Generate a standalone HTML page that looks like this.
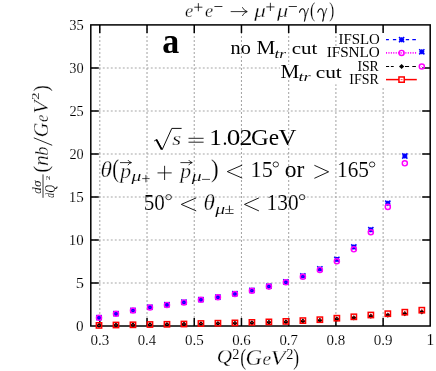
<!DOCTYPE html>
<html><head><meta charset="utf-8"><title>plot</title>
<style>
html,body{margin:0;padding:0;background:#fff;}
body{width:436px;height:371px;overflow:hidden;font-family:"Liberation Serif",serif;}
svg{display:block;will-change:transform;}
text{font-family:"Liberation Serif",serif;fill:#000;}
</style></head><body>
<svg width="436" height="371" viewBox="0 0 436 371">
<rect x="0" y="0" width="436" height="371" fill="#fff"/>

<g stroke="#a6a6a6" stroke-width="1.05" stroke-dasharray="1.9 2.1" fill="none">
<path d="M99.80 326.00V24.90"/>
<path d="M147.02 326.00V24.90"/>
<path d="M194.24 326.00V24.90"/>
<path d="M241.46 326.00V24.90"/>
<path d="M288.68 326.00V24.90"/>
<path d="M335.90 326.00V24.90"/>
<path d="M383.12 326.00V24.90"/>
<path d="M90.80 282.99H430.20"/>
<path d="M90.80 239.97H430.20"/>
<path d="M90.80 196.96H430.20"/>
<path d="M90.80 153.94H430.20"/>
<path d="M90.80 110.93H430.20"/>
<path d="M90.80 67.91H430.20"/>
</g>
<rect x="280" y="65" width="150" height="15" fill="#fff"/>
<rect x="381" y="32" width="49" height="56" fill="#fff"/>
<rect x="334.5" y="47.7" width="3.6" height="36.6" fill="#fff"/>
<g stroke="#000" stroke-width="1.5" fill="none">
<path d="M99.80 326.00v-8M99.80 24.90v8"/>
<path d="M147.02 326.00v-8M147.02 24.90v8"/>
<path d="M194.24 326.00v-8M194.24 24.90v8"/>
<path d="M241.46 326.00v-8M241.46 24.90v8"/>
<path d="M288.68 326.00v-8M288.68 24.90v8"/>
<path d="M335.90 326.00v-8M335.90 24.90v8"/>
<path d="M383.12 326.00v-8M383.12 24.90v8"/>
<path d="M90.80 282.99h8M430.20 282.99h-8"/>
<path d="M90.80 239.97h8M430.20 239.97h-8"/>
<path d="M90.80 196.96h8M430.20 196.96h-8"/>
<path d="M90.80 153.94h8M430.20 153.94h-8"/>
<path d="M90.80 110.93h8M430.20 110.93h-8"/>
<path d="M90.80 67.91h8M430.20 67.91h-8"/>
</g>
<rect x="90.80" y="24.90" width="339.40" height="301.10" fill="none" stroke="#000" stroke-width="1.5" stroke-linejoin="miter"/>
<g id="ticklabels">
<text transform="translate(76.09 330.97) scale(1.0154 1.0173)" font-size="15.00" stroke="#fff" stroke-width="0.12">0</text>
<text transform="translate(75.64 287.96) scale(1.1000 1.0300)" font-size="15.00" stroke="#fff" stroke-width="0.11">5</text>
<text transform="translate(68.75 244.94) scale(0.9962 1.0173)" font-size="15.00" stroke="#fff" stroke-width="0.12">10</text>
<text transform="translate(68.74 201.93) scale(1.0057 1.0300)" font-size="15.00" stroke="#fff" stroke-width="0.12">15</text>
<text transform="translate(69.41 158.92) scale(0.9514 1.0173)" font-size="15.00" stroke="#fff" stroke-width="0.12">20</text>
<text transform="translate(69.40 115.90) scale(0.9600 1.0300)" font-size="15.00" stroke="#fff" stroke-width="0.12">25</text>
<text transform="translate(69.28 72.89) scale(0.9600 1.0173)" font-size="15.00" stroke="#fff" stroke-width="0.12">30</text>
<text transform="translate(69.27 29.87) scale(0.9688 1.0173)" font-size="15.00" stroke="#fff" stroke-width="0.12">35</text>
<text transform="translate(90.50 344.67) scale(1.0043 1.0370)" font-size="15.00" stroke="#fff" stroke-width="0.12">0.3</text>
<text transform="translate(137.73 344.67) scale(0.9833 1.0370)" font-size="15.00" stroke="#fff" stroke-width="0.12">0.4</text>
<text transform="translate(184.94 344.67) scale(1.0043 1.0370)" font-size="15.00" stroke="#fff" stroke-width="0.12">0.5</text>
<text transform="translate(232.16 344.67) scale(0.9902 1.0370)" font-size="15.00" stroke="#fff" stroke-width="0.12">0.6</text>
<text transform="translate(279.38 344.67) scale(0.9902 1.0370)" font-size="15.00" stroke="#fff" stroke-width="0.12">0.7</text>
<text transform="translate(326.60 344.67) scale(0.9972 1.0370)" font-size="15.00" stroke="#fff" stroke-width="0.12">0.8</text>
<text transform="translate(373.82 344.67) scale(1.0043 1.0370)" font-size="15.00" stroke="#fff" stroke-width="0.12">0.9</text>
<text transform="translate(426.46 344.70) scale(1.0233 1.0532)" font-size="15.00" stroke="#fff" stroke-width="0.12">1</text>
</g>
<g id="data">
<path d="M96.50 317.72h5.00M99.00 315.22v5.00M96.40 315.12l5.20 5.20M96.40 320.32l5.20 -5.20" stroke="#0000ff" stroke-width="1.5" fill="none"/>
<path d="M113.49 313.68h5.00M115.99 311.18v5.00M113.39 311.08l5.20 5.20M113.39 316.28l5.20 -5.20" stroke="#0000ff" stroke-width="1.5" fill="none"/>
<path d="M130.48 310.35h5.00M132.98 307.85v5.00M130.38 307.75l5.20 5.20M130.38 312.95l5.20 -5.20" stroke="#0000ff" stroke-width="1.5" fill="none"/>
<path d="M147.47 307.21h5.00M149.97 304.71v5.00M147.37 304.61l5.20 5.20M147.37 309.81l5.20 -5.20" stroke="#0000ff" stroke-width="1.5" fill="none"/>
<path d="M164.46 304.69h5.00M166.96 302.19v5.00M164.36 302.09l5.20 5.20M164.36 307.29l5.20 -5.20" stroke="#0000ff" stroke-width="1.5" fill="none"/>
<path d="M181.45 302.16h5.00M183.95 299.66v5.00M181.35 299.56l5.20 5.20M181.35 304.76l5.20 -5.20" stroke="#0000ff" stroke-width="1.5" fill="none"/>
<path d="M198.44 299.54h5.00M200.94 297.04v5.00M198.34 296.94l5.20 5.20M198.34 302.14l5.20 -5.20" stroke="#0000ff" stroke-width="1.5" fill="none"/>
<path d="M215.43 297.01h5.00M217.93 294.51v5.00M215.33 294.41l5.20 5.20M215.33 299.61l5.20 -5.20" stroke="#0000ff" stroke-width="1.5" fill="none"/>
<path d="M232.42 293.68h5.00M234.92 291.18v5.00M232.32 291.08l5.20 5.20M232.32 296.28l5.20 -5.20" stroke="#0000ff" stroke-width="1.5" fill="none"/>
<path d="M249.41 290.35h5.00M251.91 287.85v5.00M249.31 287.75l5.20 5.20M249.31 292.95l5.20 -5.20" stroke="#0000ff" stroke-width="1.5" fill="none"/>
<path d="M266.40 286.21h5.00M268.90 283.71v5.00M266.30 283.61l5.20 5.20M266.30 288.81l5.20 -5.20" stroke="#0000ff" stroke-width="1.5" fill="none"/>
<path d="M283.39 281.86h5.00M285.89 279.36v5.00M283.29 279.26l5.20 5.20M283.29 284.46l5.20 -5.20" stroke="#0000ff" stroke-width="1.5" fill="none"/>
<path d="M300.38 276.00h5.00M302.88 273.50v5.00M300.28 273.40l5.20 5.20M300.28 278.60l5.20 -5.20" stroke="#0000ff" stroke-width="1.5" fill="none"/>
<path d="M317.37 268.90h5.00M319.87 266.40v5.00M317.27 266.30l5.20 5.20M317.27 271.50l5.20 -5.20" stroke="#0000ff" stroke-width="1.5" fill="none"/>
<path d="M334.36 259.40h5.00M336.86 256.90v5.00M334.26 256.80l5.20 5.20M334.26 262.00l5.20 -5.20" stroke="#0000ff" stroke-width="1.5" fill="none"/>
<path d="M351.35 247.00h5.00M353.85 244.50v5.00M351.25 244.40l5.20 5.20M351.25 249.60l5.20 -5.20" stroke="#0000ff" stroke-width="1.5" fill="none"/>
<path d="M368.34 229.70h5.00M370.84 227.20v5.00M368.24 227.10l5.20 5.20M368.24 232.30l5.20 -5.20" stroke="#0000ff" stroke-width="1.5" fill="none"/>
<path d="M385.33 203.20h5.00M387.83 200.70v5.00M385.23 200.60l5.20 5.20M385.23 205.80l5.20 -5.20" stroke="#0000ff" stroke-width="1.5" fill="none"/>
<path d="M402.32 156.00h5.00M404.82 153.50v5.00M402.22 153.40l5.20 5.20M402.22 158.60l5.20 -5.20" stroke="#0000ff" stroke-width="1.5" fill="none"/>
<path d="M419.31 51.80h5.00M421.81 49.30v5.00M419.21 49.20l5.20 5.20M419.21 54.40l5.20 -5.20" stroke="#0000ff" stroke-width="1.5" fill="none"/>
<circle cx="99.00" cy="317.80" r="2.55" stroke="#ff00ff" stroke-width="1.45" fill="none"/><circle cx="99.00" cy="317.80" r="0.42" fill="#ff00ff"/>
<circle cx="115.99" cy="313.80" r="2.55" stroke="#ff00ff" stroke-width="1.45" fill="none"/><circle cx="115.99" cy="313.80" r="0.42" fill="#ff00ff"/>
<circle cx="132.98" cy="310.50" r="2.55" stroke="#ff00ff" stroke-width="1.45" fill="none"/><circle cx="132.98" cy="310.50" r="0.42" fill="#ff00ff"/>
<circle cx="149.97" cy="307.40" r="2.55" stroke="#ff00ff" stroke-width="1.45" fill="none"/><circle cx="149.97" cy="307.40" r="0.42" fill="#ff00ff"/>
<circle cx="166.96" cy="304.90" r="2.55" stroke="#ff00ff" stroke-width="1.45" fill="none"/><circle cx="166.96" cy="304.90" r="0.42" fill="#ff00ff"/>
<circle cx="183.95" cy="302.40" r="2.55" stroke="#ff00ff" stroke-width="1.45" fill="none"/><circle cx="183.95" cy="302.40" r="0.42" fill="#ff00ff"/>
<circle cx="200.94" cy="299.80" r="2.55" stroke="#ff00ff" stroke-width="1.45" fill="none"/><circle cx="200.94" cy="299.80" r="0.42" fill="#ff00ff"/>
<circle cx="217.93" cy="297.30" r="2.55" stroke="#ff00ff" stroke-width="1.45" fill="none"/><circle cx="217.93" cy="297.30" r="0.42" fill="#ff00ff"/>
<circle cx="234.92" cy="294.00" r="2.55" stroke="#ff00ff" stroke-width="1.45" fill="none"/><circle cx="234.92" cy="294.00" r="0.42" fill="#ff00ff"/>
<circle cx="251.91" cy="290.70" r="2.55" stroke="#ff00ff" stroke-width="1.45" fill="none"/><circle cx="251.91" cy="290.70" r="0.42" fill="#ff00ff"/>
<circle cx="268.90" cy="286.60" r="2.55" stroke="#ff00ff" stroke-width="1.45" fill="none"/><circle cx="268.90" cy="286.60" r="0.42" fill="#ff00ff"/>
<circle cx="285.89" cy="282.30" r="2.55" stroke="#ff00ff" stroke-width="1.45" fill="none"/><circle cx="285.89" cy="282.30" r="0.42" fill="#ff00ff"/>
<circle cx="302.88" cy="276.80" r="2.55" stroke="#ff00ff" stroke-width="1.45" fill="none"/><circle cx="302.88" cy="276.80" r="0.42" fill="#ff00ff"/>
<circle cx="319.87" cy="269.90" r="2.55" stroke="#ff00ff" stroke-width="1.45" fill="none"/><circle cx="319.87" cy="269.90" r="0.42" fill="#ff00ff"/>
<circle cx="336.86" cy="261.20" r="2.55" stroke="#ff00ff" stroke-width="1.45" fill="none"/><circle cx="336.86" cy="261.20" r="0.42" fill="#ff00ff"/>
<circle cx="353.85" cy="249.30" r="2.55" stroke="#ff00ff" stroke-width="1.45" fill="none"/><circle cx="353.85" cy="249.30" r="0.42" fill="#ff00ff"/>
<circle cx="370.84" cy="232.20" r="2.55" stroke="#ff00ff" stroke-width="1.45" fill="none"/><circle cx="370.84" cy="232.20" r="0.42" fill="#ff00ff"/>
<circle cx="387.83" cy="206.90" r="2.55" stroke="#ff00ff" stroke-width="1.45" fill="none"/><circle cx="387.83" cy="206.90" r="0.42" fill="#ff00ff"/>
<circle cx="404.82" cy="163.30" r="2.55" stroke="#ff00ff" stroke-width="1.45" fill="none"/><circle cx="404.82" cy="163.30" r="0.42" fill="#ff00ff"/>
<circle cx="421.81" cy="66.50" r="2.55" stroke="#ff00ff" stroke-width="1.45" fill="none"/><circle cx="421.81" cy="66.50" r="0.42" fill="#ff00ff"/>
<path d="M99.00 322.87l2.60 2.60l-2.60 2.60l-2.60 -2.60z" fill="#000"/>
<path d="M115.99 322.51l2.60 2.60l-2.60 2.60l-2.60 -2.60z" fill="#000"/>
<path d="M132.98 322.33l2.60 2.60l-2.60 2.60l-2.60 -2.60z" fill="#000"/>
<path d="M149.97 322.06l2.60 2.60l-2.60 2.60l-2.60 -2.60z" fill="#000"/>
<path d="M166.96 321.89l2.60 2.60l-2.60 2.60l-2.60 -2.60z" fill="#000"/>
<path d="M183.95 321.62l2.60 2.60l-2.60 2.60l-2.60 -2.60z" fill="#000"/>
<path d="M200.94 321.17l2.60 2.60l-2.60 2.60l-2.60 -2.60z" fill="#000"/>
<path d="M217.93 320.91l2.60 2.60l-2.60 2.60l-2.60 -2.60z" fill="#000"/>
<path d="M234.92 320.64l2.60 2.60l-2.60 2.60l-2.60 -2.60z" fill="#000"/>
<path d="M251.91 320.20l2.60 2.60l-2.60 2.60l-2.60 -2.60z" fill="#000"/>
<path d="M268.90 319.75l2.60 2.60l-2.60 2.60l-2.60 -2.60z" fill="#000"/>
<path d="M285.89 319.31l2.60 2.60l-2.60 2.60l-2.60 -2.60z" fill="#000"/>
<path d="M302.88 318.59l2.60 2.60l-2.60 2.60l-2.60 -2.60z" fill="#000"/>
<path d="M319.87 317.79l2.60 2.60l-2.60 2.60l-2.60 -2.60z" fill="#000"/>
<path d="M336.86 316.46l2.60 2.60l-2.60 2.60l-2.60 -2.60z" fill="#000"/>
<path d="M353.85 315.21l2.60 2.60l-2.60 2.60l-2.60 -2.60z" fill="#000"/>
<path d="M370.84 313.61l2.60 2.60l-2.60 2.60l-2.60 -2.60z" fill="#000"/>
<path d="M387.83 312.45l2.60 2.60l-2.60 2.60l-2.60 -2.60z" fill="#000"/>
<path d="M404.82 311.12l2.60 2.60l-2.60 2.60l-2.60 -2.60z" fill="#000"/>
<path d="M421.81 309.34l2.60 2.60l-2.60 2.60l-2.60 -2.60z" fill="#000"/>
<rect x="96.35" y="322.75" width="5.30" height="5.30" stroke="#ff0000" stroke-width="1.5" fill="none"/><path d="M98.00 325.40h2" stroke="#ff0000" stroke-width="0.7"/>
<rect x="113.34" y="322.35" width="5.30" height="5.30" stroke="#ff0000" stroke-width="1.5" fill="none"/><path d="M114.99 325.00h2" stroke="#ff0000" stroke-width="0.7"/>
<rect x="130.33" y="322.15" width="5.30" height="5.30" stroke="#ff0000" stroke-width="1.5" fill="none"/><path d="M131.98 324.80h2" stroke="#ff0000" stroke-width="0.7"/>
<rect x="147.32" y="321.85" width="5.30" height="5.30" stroke="#ff0000" stroke-width="1.5" fill="none"/><path d="M148.97 324.50h2" stroke="#ff0000" stroke-width="0.7"/>
<rect x="164.31" y="321.65" width="5.30" height="5.30" stroke="#ff0000" stroke-width="1.5" fill="none"/><path d="M165.96 324.30h2" stroke="#ff0000" stroke-width="0.7"/>
<rect x="181.30" y="321.35" width="5.30" height="5.30" stroke="#ff0000" stroke-width="1.5" fill="none"/><path d="M182.95 324.00h2" stroke="#ff0000" stroke-width="0.7"/>
<rect x="198.29" y="320.85" width="5.30" height="5.30" stroke="#ff0000" stroke-width="1.5" fill="none"/><path d="M199.94 323.50h2" stroke="#ff0000" stroke-width="0.7"/>
<rect x="215.28" y="320.55" width="5.30" height="5.30" stroke="#ff0000" stroke-width="1.5" fill="none"/><path d="M216.93 323.20h2" stroke="#ff0000" stroke-width="0.7"/>
<rect x="232.27" y="320.25" width="5.30" height="5.30" stroke="#ff0000" stroke-width="1.5" fill="none"/><path d="M233.92 322.90h2" stroke="#ff0000" stroke-width="0.7"/>
<rect x="249.26" y="319.75" width="5.30" height="5.30" stroke="#ff0000" stroke-width="1.5" fill="none"/><path d="M250.91 322.40h2" stroke="#ff0000" stroke-width="0.7"/>
<rect x="266.25" y="319.25" width="5.30" height="5.30" stroke="#ff0000" stroke-width="1.5" fill="none"/><path d="M267.90 321.90h2" stroke="#ff0000" stroke-width="0.7"/>
<rect x="283.24" y="318.75" width="5.30" height="5.30" stroke="#ff0000" stroke-width="1.5" fill="none"/><path d="M284.89 321.40h2" stroke="#ff0000" stroke-width="0.7"/>
<rect x="300.23" y="317.95" width="5.30" height="5.30" stroke="#ff0000" stroke-width="1.5" fill="none"/><path d="M301.88 320.60h2" stroke="#ff0000" stroke-width="0.7"/>
<rect x="317.22" y="317.05" width="5.30" height="5.30" stroke="#ff0000" stroke-width="1.5" fill="none"/><path d="M318.87 319.70h2" stroke="#ff0000" stroke-width="0.7"/>
<rect x="334.21" y="315.55" width="5.30" height="5.30" stroke="#ff0000" stroke-width="1.5" fill="none"/><path d="M335.86 318.20h2" stroke="#ff0000" stroke-width="0.7"/>
<rect x="351.20" y="314.15" width="5.30" height="5.30" stroke="#ff0000" stroke-width="1.5" fill="none"/><path d="M352.85 316.80h2" stroke="#ff0000" stroke-width="0.7"/>
<rect x="368.19" y="312.35" width="5.30" height="5.30" stroke="#ff0000" stroke-width="1.5" fill="none"/><path d="M369.84 315.00h2" stroke="#ff0000" stroke-width="0.7"/>
<rect x="385.18" y="311.05" width="5.30" height="5.30" stroke="#ff0000" stroke-width="1.5" fill="none"/><path d="M386.83 313.70h2" stroke="#ff0000" stroke-width="0.7"/>
<rect x="402.17" y="309.55" width="5.30" height="5.30" stroke="#ff0000" stroke-width="1.5" fill="none"/><path d="M403.82 312.20h2" stroke="#ff0000" stroke-width="0.7"/>
<rect x="419.16" y="307.55" width="5.30" height="5.30" stroke="#ff0000" stroke-width="1.5" fill="none"/><path d="M420.81 310.20h2" stroke="#ff0000" stroke-width="0.7"/>
</g>
<g id="legend">
<path d="M386 39.70h2.9M392.9 39.70h3.3M405.8 39.70h3.3M412.3 39.70h3.6" stroke="#0000ff" stroke-width="1.2" fill="none"/>
<path d="M399.10 39.70h5.00M401.60 37.20v5.00M399.00 37.10l5.20 5.20M399.00 42.30l5.20 -5.20" stroke="#0000ff" stroke-width="1.5" fill="none"/>
<path d="M386.00 52.90H416.90" stroke="#ff00ff" stroke-width="1.6" stroke-dasharray="1.05 1.37" fill="none"/>
<circle cx="401.60" cy="52.90" r="2.55" stroke="#ff00ff" stroke-width="1.45" fill="none"/><circle cx="401.60" cy="52.90" r="0.42" fill="#ff00ff"/>
<path d="M386 66.50h3.1M390.9 66.50h2.8M405 66.50h4.1M412.3 66.50h3.6" stroke="#000" stroke-width="1.2" fill="none"/>
<path d="M401.60 63.90l2.60 2.60l-2.60 2.60l-2.60 -2.60z" fill="#000"/>
<path d="M386.00 79.60H416.80" stroke="#ff0000" stroke-width="1.5" fill="none"/>
<rect x="398.95" y="76.95" width="5.3" height="5.3" fill="#fff" stroke="none"/>
<rect x="398.95" y="76.95" width="5.30" height="5.30" stroke="#ff0000" stroke-width="1.5" fill="none"/><path d="M400.60 79.60h2" stroke="#ff0000" stroke-width="0.7"/>
<text transform="translate(338.45 44.47) scale(1.1041 1.0192)" font-size="13.50">IFSLO</text>
<text transform="translate(326.64 57.47) scale(1.1265 1.0301)" font-size="13.50">IFSNLO</text>
<text transform="translate(357.39 71.17) scale(1.0195 1.0082)" font-size="13.50">ISR</text>
<text transform="translate(349.28 84.47) scale(1.0357 1.0192)" font-size="13.50">IFSR</text>
</g>
<g id="ann">
<text transform="translate(230.58 54.30) scale(1.1235 1.0235)" font-size="18.00">no</text>
<text transform="translate(256.41 54.30) scale(1.1733 1.0383)" font-size="18.00">M</text>
<text transform="translate(274.58 57.60) scale(1.1520 0.8836)" font-size="15.00" font-style="italic" stroke="#fff" stroke-width="0.05">tr</text>
<text transform="translate(291.77 54.30) scale(1.1671 0.9778)" font-size="18.00">cut</text>
<text transform="translate(280.51 77.70) scale(1.1733 1.0298)" font-size="18.00">M</text>
<text transform="translate(298.44 81.10) scale(1.2160 0.8836)" font-size="15.00" font-style="italic" stroke="#fff" stroke-width="0.05">tr</text>
<text transform="translate(315.66 77.70) scale(1.1859 0.9679)" font-size="18.00">cut</text>
<text transform="translate(162.21 52.72) scale(0.9701 1.0030)" font-size="35.00" font-weight="bold">a</text>
</g>
<g id="title">
<text transform="translate(184.95 17.00) scale(0.8848 0.9316)" font-size="21.00" font-style="italic" stroke="#fff" stroke-width="0.33">e</text>
<path d="M194.30 7.20H202.40M198.35 3.15V11.25" stroke="#000" stroke-width="0.80" fill="none"/>
<text transform="translate(204.95 17.00) scale(0.8727 0.9316)" font-size="21.00" font-style="italic" stroke="#fff" stroke-width="0.33">e</text>
<path d="M214.4 6.5h8" stroke="#000" stroke-width="0.8"/>
<path d="M230.7 11.6h16.2M242.3 7.2q1.3 3.2 5 4.4q-3.7 1.2 -5 4.4" stroke="#000" stroke-width="0.8" fill="none"/>
<text transform="translate(254.20 16.52) scale(1.1038 0.9062)" font-size="21.00" font-style="italic" stroke="#fff" stroke-width="0.30">μ</text>
<path d="M266.30 6.90H274.50M270.40 2.80V11.00" stroke="#000" stroke-width="0.80" fill="none"/>
<text transform="translate(277.00 16.52) scale(1.0633 0.9062)" font-size="21.00" font-style="italic" stroke="#fff" stroke-width="0.30">μ</text>
<path d="M288.7 6.5h8.2" stroke="#000" stroke-width="0.8"/>
<g transform="translate(299.00 8.00) scale(0.951 1.095)" fill="none" stroke="#000" stroke-linecap="round"><path d="M0.5 3.9C1.3 1.4 2.6 0.6 3.9 0.7C5.6 0.9 6.4 3.2 6.6 6.8" stroke-width="1.05"/><path d="M9.9 0.4C8.4 3.8 6.3 8.6 5.7 12.3C6.3 10.6 6.6 8.6 6.6 6.8" stroke-width="0.75"/></g>
<text transform="translate(309.95 17.19) scale(0.7455 1.0248)" font-size="21.00" stroke="#fff" stroke-width="0.17">(</text>
<g transform="translate(317.30 8.00) scale(0.951 1.095)" fill="none" stroke="#000" stroke-linecap="round"><path d="M0.5 3.9C1.3 1.4 2.6 0.6 3.9 0.7C5.6 0.9 6.4 3.2 6.6 6.8" stroke-width="1.05"/><path d="M9.9 0.4C8.4 3.8 6.3 8.6 5.7 12.3C6.3 10.6 6.6 8.6 6.6 6.8" stroke-width="0.75"/></g>
<text transform="translate(329.26 17.19) scale(0.7091 1.0248)" font-size="21.00" stroke="#fff" stroke-width="0.17">)</text>
</g>
<g id="l1">
<path d="M154.2 141.0l2.6 -1.6l5.4 10.2l9.6 -21.2h9.8" stroke="#000" stroke-width="0.95" fill="none" stroke-linejoin="miter"/>
<path d="M156.4 139.9l5.3 9.6" stroke="#000" stroke-width="1.7" fill="none"/>
<text transform="translate(172.13 144.77) scale(1.0897 0.9284)" font-size="21.00" font-style="italic" stroke="#fff" stroke-width="0.30">s</text>
<path d="M188.5 138.3h15.1M188.5 142.2h15.1" stroke="#000" stroke-width="0.85"/>
<text transform="translate(209.37 145.00) scale(1.1175 1.0151)" font-size="22.50">1</text>
<text transform="translate(222.49 145.00) scale(0.8762 1.0000)" font-size="22.50">.</text>
<text transform="translate(226.84 145.05) scale(1.2105 1.0164)" font-size="22.50">0</text>
<text transform="translate(239.46 145.00) scale(1.1444 1.0218)" font-size="22.50">2</text>
<text transform="translate(251.04 145.04) scale(1.0940 1.0380)" font-size="22.50">G</text>
<text transform="translate(268.79 145.05) scale(1.0388 0.9839)" font-size="22.50">e</text>
<text transform="translate(278.62 144.92) scale(1.1048 1.0182)" font-size="22.50">V</text>
</g>
<g id="l2">
<text transform="translate(100.58 177.03) scale(1.1155 1.0622)" font-size="21.00" font-style="italic" stroke="#fff" stroke-width="0.28">θ</text>
<text transform="translate(112.36 176.71) scale(0.9636 1.1974)" font-size="21.00" stroke="#fff" stroke-width="0.14">(</text>
<text transform="translate(120.19 177.65) scale(1.0337 0.9878)" font-size="21.00" font-style="italic" stroke="#fff" stroke-width="0.30">p</text>
<path d="M120.00 162.60H131.20M127.90 160.00q1 1.9 3.6 2.6q-2.6 0.7 -3.6 2.6" stroke="#000" stroke-width="0.8" fill="none"/>
<text transform="translate(131.60 181.45) scale(1.3481 0.9436)" font-size="14.50" font-style="italic" stroke="#fff" stroke-width="0.09">μ</text>
<path d="M142.20 178.60H149.60M145.90 174.90V182.30" stroke="#000" stroke-width="0.70" fill="none"/>
<path d="M157.50 172.90H171.70M164.60 165.80V180.00" stroke="#000" stroke-width="0.85" fill="none"/>
<text transform="translate(180.29 177.65) scale(1.0337 0.9878)" font-size="21.00" font-style="italic" stroke="#fff" stroke-width="0.30">p</text>
<path d="M180.40 162.60H192.00M188.70 160.00q1 1.9 3.6 2.6q-2.6 0.7 -3.6 2.6" stroke="#000" stroke-width="0.8" fill="none"/>
<text transform="translate(191.70 181.45) scale(1.3630 0.9436)" font-size="14.50" font-style="italic" stroke="#fff" stroke-width="0.09">μ</text>
<path d="M202 179.4h8" stroke="#000" stroke-width="0.7"/>
<text transform="translate(211.02 176.71) scale(1.0909 1.1974)" font-size="21.00" stroke="#fff" stroke-width="0.13">)</text>
<path d="M242.20 165.10L227.30 171.60L242.20 178.10" stroke="#000" stroke-width="0.9" fill="none"/>
<text transform="translate(250.62 177.03) scale(1.0558 1.0903)" font-size="21.00" stroke="#fff" stroke-width="0.11">15</text>
<ellipse cx="275.80" cy="164.45" rx="2.70" ry="2.55" stroke="#000" stroke-width="0.8" fill="none"/>
<text transform="translate(284.79 177.14) scale(1.0440 1.0483)" font-size="22.50">or</text>
<path d="M314.40 165.30L328.60 171.80L314.40 178.30" stroke="#000" stroke-width="0.9" fill="none"/>
<text transform="translate(336.99 177.03) scale(1.0182 1.0903)" font-size="21.00" stroke="#fff" stroke-width="0.11">165</text>
<ellipse cx="372.10" cy="164.45" rx="2.70" ry="2.55" stroke="#000" stroke-width="0.8" fill="none"/>
</g>
<g id="l3">
<text transform="translate(143.74 209.73) scale(1.0053 1.0877)" font-size="21.00" stroke="#fff" stroke-width="0.11">50</text>
<ellipse cx="168.60" cy="197.15" rx="2.80" ry="2.55" stroke="#000" stroke-width="0.8" fill="none"/>
<path d="M196.20 197.90L181.30 204.40L196.20 210.90" stroke="#000" stroke-width="0.9" fill="none"/>
<text transform="translate(203.60 209.73) scale(1.1042 1.0622)" font-size="21.00" font-style="italic" stroke="#fff" stroke-width="0.28">θ</text>
<text transform="translate(215.20 214.15) scale(1.3630 0.9436)" font-size="14.50" font-style="italic" stroke="#fff" stroke-width="0.09">μ</text>
<text transform="translate(224.53 213.70) scale(1.2296 1.0462)" font-size="14.50">±</text>
<path d="M258.90 197.90L244.50 204.40L258.90 210.90" stroke="#000" stroke-width="0.9" fill="none"/>
<text transform="translate(266.59 209.73) scale(1.0182 1.0877)" font-size="21.00" stroke="#fff" stroke-width="0.11">130</text>
<ellipse cx="302.10" cy="197.15" rx="2.80" ry="2.55" stroke="#000" stroke-width="0.8" fill="none"/>
</g>
<g id="xl">
<text transform="translate(216.86 363.25) scale(1.0128 0.9333)" font-size="21.00" font-style="italic" stroke="#fff" stroke-width="0.31">Q</text>
<text transform="translate(232.28 358.80) scale(0.9872 0.9684)" font-size="14.50" stroke="#fff" stroke-width="0.10">2</text>
<text transform="translate(240.27 364.53) scale(0.8364 1.0824)" font-size="21.00" stroke="#fff" stroke-width="0.16">(</text>
<text transform="translate(245.47 365.07) scale(1.0936 1.0714)" font-size="21.00" font-style="italic" stroke="#fff" stroke-width="0.28">G</text>
<text transform="translate(262.62 364.87) scale(0.9212 0.9185)" font-size="21.00" font-style="italic" stroke="#fff" stroke-width="0.33">e</text>
<text transform="translate(270.58 364.62) scale(1.1709 1.0265)" font-size="21.00" font-style="italic" stroke="#fff" stroke-width="0.27">V</text>
<text transform="translate(286.18 358.60) scale(0.9872 0.9684)" font-size="14.50" stroke="#fff" stroke-width="0.10">2</text>
<text transform="translate(293.18 364.53) scale(0.8364 1.0824)" font-size="21.00" stroke="#fff" stroke-width="0.16">)</text>
</g>
<g id="yl">
<text transform="translate(0.00 0.00) rotate(-90) translate(-172.66 47.98) scale(0.9818 0.9830)" font-size="21.00" stroke="#fff" stroke-width="0.15">(</text>
<text transform="translate(0.00 0.00) rotate(-90) translate(-166.08 48.20) scale(1.0366 0.9620)" font-size="21.00" font-style="italic" stroke="#fff" stroke-width="0.30">n</text>
<text transform="translate(0.00 0.00) rotate(-90) translate(-155.67 47.97) scale(0.8877 0.9143)" font-size="21.00" font-style="italic" stroke="#fff" stroke-width="0.33">b</text>
<path d="M52.2 145.3L33.8 137.8" stroke="#000" stroke-width="0.85"/>
<text transform="translate(0.00 0.00) rotate(-90) translate(-137.19 48.47) scale(0.9688 1.0143)" font-size="21.00" font-style="italic" stroke="#fff" stroke-width="0.30">G</text>
<text transform="translate(0.00 0.00) rotate(-90) translate(-122.09 48.07) scale(0.7879 0.9284)" font-size="21.00" font-style="italic" stroke="#fff" stroke-width="0.35">e</text>
<text transform="translate(0.00 0.00) rotate(-90) translate(-113.85 47.84) scale(1.0255 0.9628)" font-size="21.00" font-style="italic" stroke="#fff" stroke-width="0.30">V</text>
<text transform="translate(0.00 0.00) rotate(-90) translate(-100.05 38.60) scale(1.0383 0.7158)" font-size="14.50" stroke="#fff" stroke-width="0.11">2</text>
<text transform="translate(0.00 0.00) rotate(-90) translate(-91.56 47.98) scale(0.8909 0.9830)" font-size="21.00" stroke="#fff" stroke-width="0.16">)</text>
<path d="M43 174.4V197.8" stroke="#000" stroke-width="0.8"/>
<text transform="translate(0.00 0.00) rotate(-90) translate(-194.05 40.69) scale(0.9309 0.9185)" font-size="14.50" font-style="italic" stroke="#fff" stroke-width="0.09">d</text>
<text transform="translate(0.00 0.00) rotate(-90) translate(-186.95 40.70) scale(0.9241 0.8000)" font-size="14.50" font-style="italic" stroke="#fff" stroke-width="0.09">σ</text>
<text transform="translate(0.00 0.00) rotate(-90) translate(-197.75 54.49) scale(0.6545 0.8790)" font-size="14.50" font-style="italic" stroke="#fff" stroke-width="0.10">d</text>
<text transform="translate(0.00 0.00) rotate(-90) translate(-192.86 54.94) scale(0.7474 0.9500)" font-size="14.50" font-style="italic" stroke="#fff" stroke-width="0.09">Q</text>
<text transform="translate(0.00 0.00) rotate(-90) translate(-180.02 49.60) scale(0.8485 0.6154)" font-size="10.00">2</text>
</g>
</svg></body></html>
